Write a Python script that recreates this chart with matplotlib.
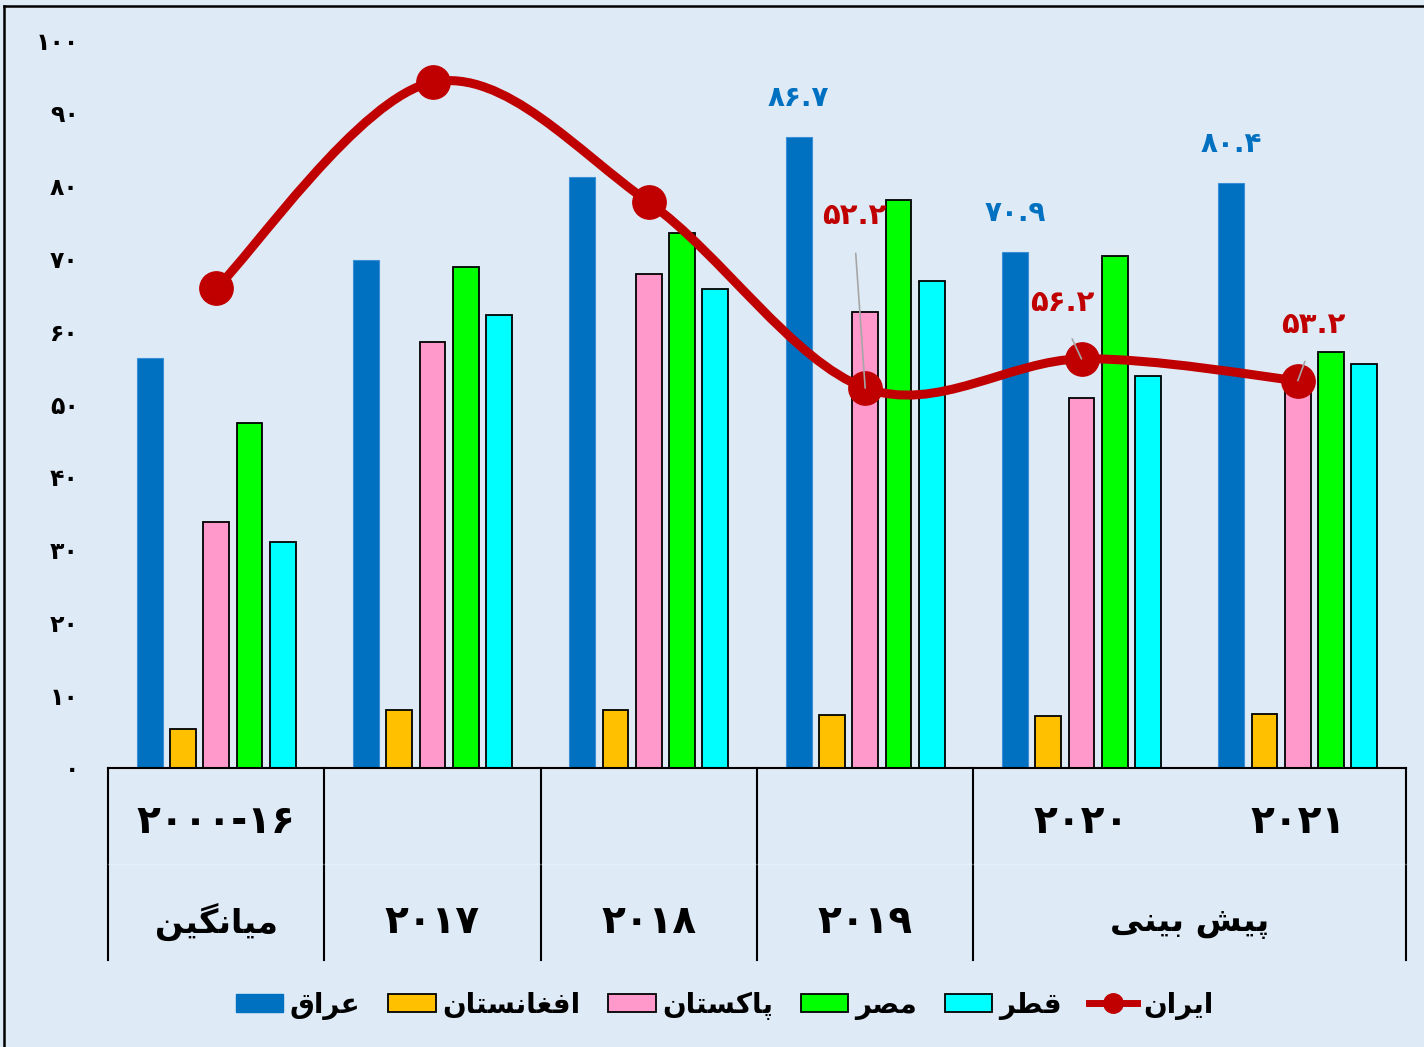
import matplotlib
matplotlib.use("Agg")
import matplotlib.pyplot as plt
from matplotlib.path import Path
from matplotlib.patches import PathPatch, Patch
from matplotlib.lines import Line2D
import numpy as np

plt.rcParams['font.family'] = ['DejaVu Sans']
plt.rcParams['font.weight'] = 'bold'

# ---------------- data ----------------
years_row1 = ["۲۰۰۰-۱۶", "", "", "", "۲۰۲۰", "۲۰۲۱"]
groups_row2 = ["میانگین", "۲۰۱۷", "۲۰۱۸", "۲۰۱۹", "پیش بینی"]
series_names = ["عراق", "افغانستان", "پاکستان", "مصر", "قطر"]
line_name = "ایران"

iraq = [56.3, 69.8, 81.2, 86.7, 70.9, 80.4]
afghanistan = [5.3, 8.0, 8.0, 7.3, 7.1, 7.4]
pakistan = [33.8, 58.5, 67.9, 62.7, 50.8, 53.0]
egypt = [47.4, 68.8, 73.5, 78.0, 70.3, 57.1]
qatar = [31.1, 62.2, 65.8, 66.9, 53.8, 55.5]
iran = [65.9, 94.2, 77.7, 52.2, 56.2, 53.2]

iraq_labelled = [3, 4, 5]
iran_labelled = [3, 4, 5]
yticks = [0, 10, 20, 30, 40, 50, 60, 70, 80, 90, 100]

colors = ["#0070C0", "#FFC000", "#FF99CC", "#00FF00", "#00FFFF"]
iran_color = "#C00000"
bg = "#DEEAF6"

# ---------------- Arabic shaping helper ----------------
FORMS = {
    '\u0627': ('\uFE8D', '\uFE8E', None, None),        # alef
    '\u0631': ('\uFEAD', '\uFEAE', None, None),        # reh
    '\u0639': ('\uFEC9', '\uFECA', '\uFECB', '\uFECC'),  # ain
    '\u0642': ('\uFED5', '\uFED6', '\uFED7', '\uFED8'),  # qaf
    '\u0641': ('\uFED1', '\uFED2', '\uFED3', '\uFED4'),  # feh
    '\u063A': ('\uFECD', '\uFECE', '\uFECF', '\uFED0'),  # ghain
    '\u0646': ('\uFEE5', '\uFEE6', '\uFEE7', '\uFEE8'),  # noon
    '\u0633': ('\uFEB1', '\uFEB2', '\uFEB3', '\uFEB4'),  # seen
    '\u062A': ('\uFE95', '\uFE96', '\uFE97', '\uFE98'),  # teh
    '\u067E': ('\uFB56', '\uFB57', '\uFB58', '\uFB59'),  # peh
    '\u06A9': ('\uFB8E', '\uFB8F', '\uFB90', '\uFB91'),  # keheh
    '\u0645': ('\uFEE1', '\uFEE2', '\uFEE3', '\uFEE4'),  # meem
    '\u0635': ('\uFEB9', '\uFEBA', '\uFEBB', '\uFEBC'),  # sad
    '\u0637': ('\uFEC1', '\uFEC2', '\uFEC3', '\uFEC4'),  # tah
    '\u06CC': ('\uFBFC', '\uFBFD', '\uFBFE', '\uFBFF'),  # farsi yeh
    '\u06AF': ('\uFB92', '\uFB93', '\uFB94', '\uFB95'),  # gaf
    '\u0634': ('\uFEB5', '\uFEB6', '\uFEB7', '\uFEB8'),  # sheen
    '\u0628': ('\uFE8F', '\uFE90', '\uFE91', '\uFE92'),  # beh
}


def shape(word):
    if not any(c in FORMS for c in word):
        return word
    chars = list(word)
    out = []
    for i, c in enumerate(chars):
        if c not in FORMS:
            out.append(c)
            continue
        iso, fin, ini, med = FORMS[c]
        prev = chars[i - 1] if i > 0 else None
        nxt = chars[i + 1] if i + 1 < len(chars) else None
        pj = prev in FORMS and FORMS[prev][2] is not None
        nj = (nxt in FORMS) and ini is not None
        if pj and nj:
            out.append(med)
        elif pj:
            out.append(fin)
        elif nj:
            out.append(ini)
        else:
            out.append(iso)
    return ''.join(reversed(out))


FA = str.maketrans("0123456789", "۰۱۲۳۴۵۶۷۸۹")


def fa(v, fmt="{:g}"):
    return fmt.format(v).translate(FA)


def is_numeric_label(s):
    return not any(c in FORMS for c in s)


# ---------------- figure ----------------
W, H = 1424, 1047
fig = plt.figure(figsize=(W / 100, H / 100), dpi=100, facecolor=bg)
ax_left, ax_right = 108 / W, 1406 / W
ax_bottom, ax_top = (H - 768) / H, (H - 40) / H
ax = fig.add_axes([ax_left, ax_bottom, ax_right - ax_left, ax_top - ax_bottom])
ax.set_facecolor(bg)

n = len(iraq)
x = np.arange(n)
step, width = 0.154, 0.12
all_series = [iraq, afghanistan, pakistan, egypt, qatar]
for k, (vals, col) in enumerate(zip(all_series, colors)):
    if k == 0:
        ax.bar(x + (k - 2) * step, vals, width, color=col, edgecolor="#3A8FD6",
               linewidth=0.8, zorder=2)
    else:
        ax.bar(x + (k - 2) * step, vals, width, color=col, edgecolor="black",
               linewidth=1.3, zorder=2)

# smoothed Iran line (cubic Bezier through the points)
P = np.column_stack([x.astype(float), np.array(iran, float)])
verts = [P[0]]
codes = [Path.MOVETO]
for i in range(n - 1):
    p0 = P[i - 1] if i > 0 else P[i]
    p1, p2 = P[i], P[i + 1]
    p3 = P[i + 2] if i + 2 < n else P[i + 1]
    c1 = p1 + (p2 - p0) / 6.0
    c2 = p2 - (p3 - p1) / 6.0
    verts += [c1, c2, p2]
    codes += [Path.CURVE4] * 3
ax.add_patch(PathPatch(Path(verts, codes), facecolor="none", edgecolor=iran_color,
                       lw=6.5, zorder=4, capstyle="round", joinstyle="round", clip_on=False))
ax.plot(x, iran, "o", color=iran_color, markersize=24, zorder=5, clip_on=False)

# Iraq data labels
for i in iraq_labelled:
    ax.annotate(fa(iraq[i]), xy=(x[i] - 2 * step, iraq[i]), xytext=(0, 28),
                textcoords="offset points", ha="center", va="center",
                fontsize=20, fontweight="bold", color="#0070C0", zorder=6)

# Iran data labels with leader lines
iran_offsets = {3: (-8, 124), 4: (-14, 40), 5: (11, 40)}
for i in iran_labelled:
    dx, dy = iran_offsets[i]
    ax.annotate(fa(iran[i]), xy=(x[i], iran[i]), xytext=(dx, dy),
                textcoords="offset points", ha="center", va="center",
                fontsize=21, fontweight="bold", color=iran_color, zorder=7,
                arrowprops=dict(arrowstyle="-", color="#A6A6A6", lw=1.2,
                                shrinkA=15, shrinkB=0, relpos=(0.5, 0.0)))

ax.set_xlim(-0.5, n - 0.5)
ax.set_ylim(0, 100)
ax.set_yticks(yticks)
ax.set_yticklabels([fa(t) for t in yticks], fontsize=17, fontweight="bold")
ax.tick_params(axis="y", length=0, pad=21)
ax.set_xticks([])
for s in ["left", "right", "top"]:
    ax.spines[s].set_visible(False)
ax.spines["bottom"].set_linewidth(1.5)
ax.spines["bottom"].set_color("black")

# multi-level category table below axis
tr = ax.get_xaxis_transform()
y_bot = -0.264
for b in [-0.5, 0.5, 1.5, 2.5, 3.5, 5.5]:
    ax.add_line(Line2D([b, b], [0, y_bot], transform=tr, color="black", lw=1.5, clip_on=False))
ax.add_line(Line2D([-0.5, 5.5], [-0.132, -0.132], transform=tr, color="white", lw=1.0,
                   alpha=0.3, clip_on=False))
for i, lab in enumerate(years_row1):
    if lab:
        ax.text(x[i], -0.074, lab, transform=tr, ha="center", va="center",
                fontsize=28, fontweight="bold")
row2_pos = [0, 1, 2, 3, 4.5]
for pos, lab in zip(row2_pos, groups_row2):
    ax.text(pos, -0.212, shape(lab), transform=tr, ha="center", va="center",
            fontsize=28 if is_numeric_label(lab) else 24, fontweight="bold")

# legend
handles = [Patch(facecolor=colors[0], edgecolor=colors[0])]
handles += [Patch(facecolor=c, edgecolor="black", linewidth=1.3) for c in colors[1:]]
handles.append(Line2D([], [], color=iran_color, lw=5, marker="o", markersize=14))
labels = [shape(s) for s in series_names] + [shape(line_name)]
fig.legend(handles, labels, loc="center", bbox_to_anchor=(0.509, 0.040), ncol=6,
           frameon=False, prop=dict(size=20, weight="bold"), handlelength=1.7,
           handleheight=0.65, handletextpad=0.25, columnspacing=1.0)

# outer frame (left and top edges visible)
fig.add_artist(Line2D([4 / W, 4 / W], [0, (H - 6) / H], transform=fig.transFigure,
                      color="black", lw=1.8))
fig.add_artist(Line2D([4 / W, 1], [(H - 6) / H, (H - 6) / H], transform=fig.transFigure,
                      color="black", lw=1.8))

fig.savefig("out.png", dpi=100, facecolor=bg)
